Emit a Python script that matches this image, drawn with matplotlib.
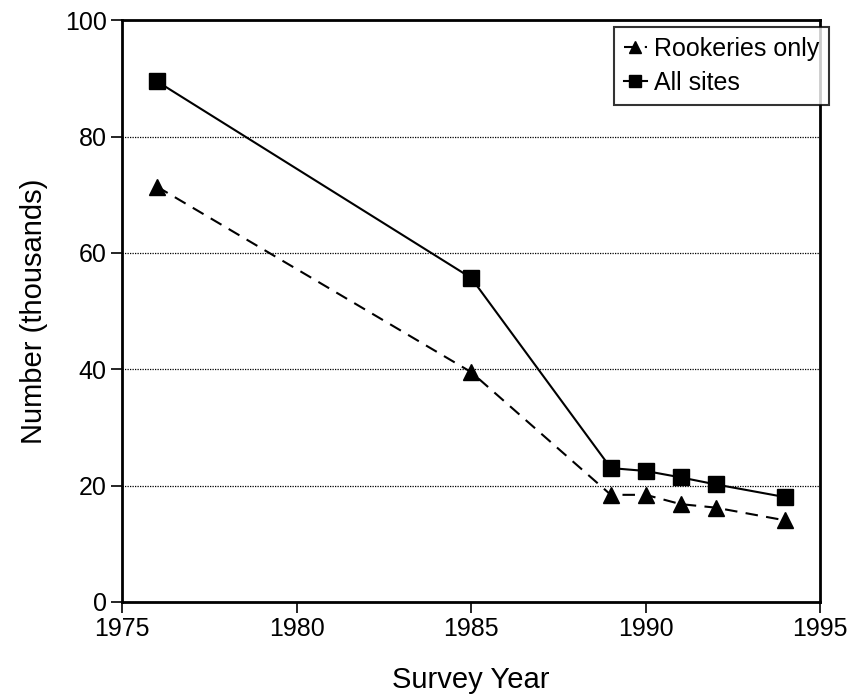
import matplotlib.pyplot as plt

plt.rcParams['font.family'] = ['Liberation Sans', 'DejaVu Sans']

years = [1976, 1985, 1989, 1990, 1991, 1992, 1994]
all_sites = [89.5, 55.7, 23.0, 22.5, 21.4, 20.2, 18.0]
rookeries = [71.4, 39.5, 18.4, 18.4, 16.8, 16.2, 14.0]

fig = plt.figure(figsize=(8.59, 6.99), dpi=100)
ax = fig.add_axes([0.142, 0.139, 0.813, 0.832])

ax.plot(years, rookeries, color='black', linestyle=(0, (6, 4)), linewidth=1.5,
        marker='^', markersize=11, label='Rookeries only')
ax.plot(years, all_sites, color='black', linestyle='-', linewidth=1.5,
        marker='s', markersize=11, label='All sites')

ax.set_xlim(1975, 1995)
ax.set_ylim(0, 100)
ax.set_xticks([1975, 1980, 1985, 1990, 1995])
ax.set_yticks([0, 20, 40, 60, 80, 100])
ax.yaxis.grid(True, color='black', linestyle=(0, (1, 1)), linewidth=0.9)
ax.set_axisbelow(True)

for s in ax.spines.values():
    s.set_linewidth(2)
ax.tick_params(direction='out', length=8, width=1.2, labelsize=18, pad=3)

ax.set_xlabel('Survey Year', fontsize=21, labelpad=18)
ax.set_ylabel('Number (thousands)', fontsize=21, labelpad=12)

leg = ax.legend(loc='upper right', bbox_to_anchor=(1.013, 0.988), fontsize=18,
                frameon=True, fancybox=False, handlelength=0.9,
                handletextpad=0.3, borderpad=0.4, labelspacing=0.4,
                borderaxespad=0, markerscale=0.75)
leg.get_frame().set_edgecolor('black')
leg.get_frame().set_linewidth(1.5)

fig.savefig('out.png', dpi=100)
